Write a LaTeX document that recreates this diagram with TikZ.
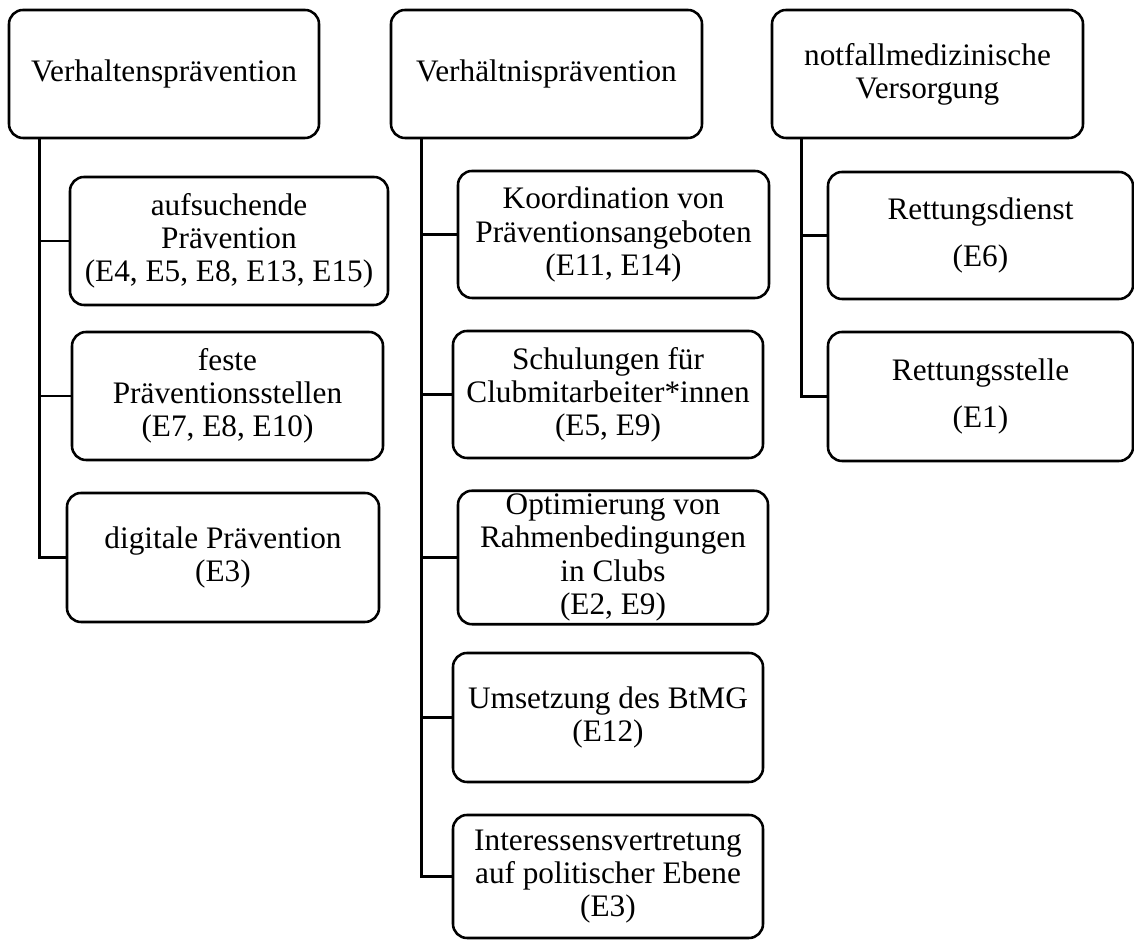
\documentclass[tikz,border=0pt]{standalone}
\usepackage{fontspec}
\setmainfont{Liberation Serif}
\usepackage{tikz}

\begin{document}
\begin{tikzpicture}[
    blk/.style={rectangle,draw,rounded corners=0.28cm,align=center,font=\fontsize{17.8}{18.8}\selectfont,line width=1.45pt,inner sep=2pt,minimum height=2.56cm},
    conn/.style={line width=1.6pt},
]
\useasboundingbox (0,0) rectangle (22.68,18.8);

\node[blk,minimum width=6.2cm] (vh) at (3.28,17.32) {Verhaltensprävention};
\node[blk,minimum width=6.22cm] (vt) at (10.93,17.32) {Verhältnisprävention};
\node[blk,minimum width=6.22cm] (nv) at (18.55,17.32) {notfallmedizinische\\Versorgung};

\node[blk,minimum width=6.36cm] (vh1) at (4.58,13.98) {aufsuchende\\Prävention\\(E4, E5, E8, E13, E15)};
\node[blk,minimum width=6.22cm] (vh2) at (4.55,10.88) {feste\\Präventionsstellen\\(E7, E8, E10)};
\node[blk,minimum width=6.24cm,minimum height=2.58cm] (vh3) at (4.46,7.65) {digitale Prävention\\(E3)};

\node[blk,minimum width=6.22cm,minimum height=2.54cm] (vt1) at (12.27,14.11) {Koordination von\\Präventionsangeboten\\(E11, E14)};
\node[blk,minimum width=6.2cm,minimum height=2.54cm] (vt2) at (12.16,10.91) {Schulungen für\\Clubmitarbeiter*innen\\(E5, E9)};
\node[blk,minimum width=6.2cm,minimum height=2.58cm] (vt3) at (12.26,7.65) {Optimierung von\\Rahmenbedingungen\\in Clubs\\(E2, E9)};
\node[blk,minimum width=6.2cm,minimum height=2.58cm] (vt4) at (12.16,4.45) {Umsetzung des BtMG\\(E12)};
\node[blk,minimum width=6.2cm,minimum height=2.46cm] (vt5) at (12.16,1.27) {Interessensvertretung\\auf politischer Ebene\\(E3)};

\node[blk,minimum width=6.1cm,minimum height=2.54cm] (nv1) at (19.61,14.09) {Rettungsdienst\\[8.5pt](E6)};
\node[blk,minimum width=6.1cm,minimum height=2.58cm] (nv2) at (19.61,10.87) {Rettungsstelle\\[8.5pt](E1)};

\draw[conn] ([xshift=0.64cm]vh.south west) |- (vh1.west);
\draw[conn] ([xshift=0.64cm]vh.south west) |- (vh2.west);
\draw[conn] ([xshift=0.64cm]vh.south west) |- (vh3.west);
\draw[conn] ([xshift=0.64cm]vt.south west) |- (vt1.west);
\draw[conn] ([xshift=0.64cm]vt.south west) |- (vt2.west);
\draw[conn] ([xshift=0.64cm]vt.south west) |- (vt3.west);
\draw[conn] ([xshift=0.64cm]vt.south west) |- (vt4.west);
\draw[conn] ([xshift=0.64cm]vt.south west) |- (vt5.west);
\draw[conn] ([xshift=0.62cm]nv.south west) |- (nv1.west);
\draw[conn] ([xshift=0.62cm]nv.south west) |- (nv2.west);
\end{tikzpicture}
\end{document}
